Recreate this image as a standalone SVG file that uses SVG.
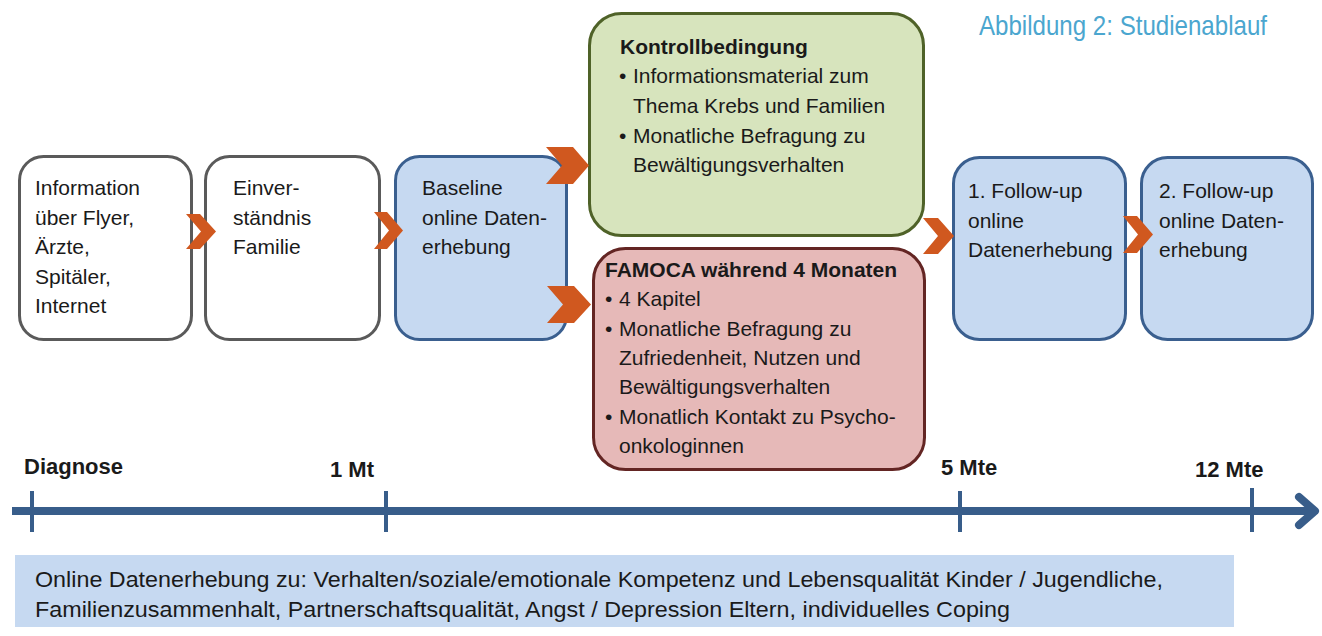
<svg xmlns="http://www.w3.org/2000/svg" width="1322" height="636" viewBox="0 0 1322 636">
<style>
text{font-family:"Liberation Sans",Arial,sans-serif;fill:#1a1a1a}
.t{font-size:21px}
.s{font-size:22px}
.b{font-size:21px;font-weight:bold}
.tl{font-size:22px;font-weight:bold}
.white{fill:#ffffff;stroke:#5a5a5a;stroke-width:3}
.blue{fill:#c6d9f1;stroke:#3a5f8f;stroke-width:3}
.green{fill:#d7e4bd;stroke:#4f6228;stroke-width:3}
.red{fill:#e6b9b8;stroke:#632523;stroke-width:3}
.chev{fill:#d0581f}
.axis{stroke:#385d8a;fill:none}
.title{font-family:"Liberation Sans",Arial,sans-serif;font-size:28px;fill:#4ba6cf}
</style>
<rect width="1322" height="636" fill="#ffffff"/>
<text class="title" x="979" y="35" textLength="288" lengthAdjust="spacingAndGlyphs">Abbildung 2: Studienablauf</text>

<g id="n1">
<rect class="white" x="19.5" y="156.5" width="172" height="183" rx="24"/>
<text class="t" x="35" y="195">Information</text>
<text class="t" x="35" y="224.5">über Flyer,</text>
<text class="t" x="35" y="254">Ärzte,</text>
<text class="t" x="35" y="283.5">Spitäler,</text>
<text class="t" x="35" y="313">Internet</text>
</g>
<g id="n2">
<rect class="white" x="205.5" y="156.5" width="174" height="183" rx="24"/>
<text class="t" x="233" y="195">Einver-</text>
<text class="t" x="233" y="224.5">ständnis</text>
<text class="t" x="233" y="254">Familie</text>
</g>
<g id="n3">
<rect class="blue" x="395.5" y="156.5" width="171" height="183" rx="24"/>
<text class="t" x="422" y="195">Baseline</text>
<text class="t" x="422" y="224.5">online Daten-</text>
<text class="t" x="422" y="254">erhebung</text>
</g>
<g id="kontroll">
<rect class="green" x="589.5" y="13.5" width="334" height="222" rx="32"/>
<text class="b" x="620" y="54">Kontrollbedingung</text>
<text class="t" x="619" y="83">•</text>
<text class="t" x="633" y="83">Informationsmaterial zum</text>
<text class="t" x="633" y="113">Thema Krebs und Familien</text>
<text class="t" x="619" y="143">•</text>
<text class="t" x="633" y="143">Monatliche Befragung zu</text>
<text class="t" x="633" y="172">Bewältigungsverhalten</text>
</g>
<g id="famoca">
<rect class="red" x="593.5" y="248.5" width="331" height="221" rx="32"/>
<text class="b" x="605" y="277">FAMOCA während 4 Monaten</text>
<text class="t" x="605" y="306">•</text>
<text class="t" x="619" y="306">4 Kapitel</text>
<text class="t" x="605" y="336">•</text>
<text class="t" x="619" y="336">Monatliche Befragung zu</text>
<text class="t" x="619" y="365">Zufriedenheit, Nutzen und</text>
<text class="t" x="619" y="394">Bewältigungsverhalten</text>
<text class="t" x="605" y="424">•</text>
<text class="t" x="619" y="424">Monatlich Kontakt zu Psycho-</text>
<text class="t" x="619" y="453">onkologinnen</text>
</g>
<g id="fu1">
<rect class="blue" x="953.5" y="157.5" width="172" height="182" rx="26"/>
<text class="t" x="968" y="198">1. Follow-up</text>
<text class="t" x="968" y="227.5">online</text>
<text class="t" x="968" y="257">Datenerhebung</text>
</g>
<g id="fu2">
<rect class="blue" x="1141.5" y="157.5" width="171" height="182" rx="26"/>
<text class="t" x="1159" y="198">2. Follow-up</text>
<text class="t" x="1159" y="227.5">online Daten-</text>
<text class="t" x="1159" y="257">erhebung</text>
</g>

<g id="connectors">
<polygon class="chev" points="186,214 200,214 216,231.5 200,249 186,249 201,231.5"/>
<polygon class="chev" points="374,212 387,212 403,230.5 387,249 374,249 389,230.5"/>
<polygon class="chev" points="546,147 573,147 589,165.5 573,184 546,184 562,165.5"/>
<polygon class="chev" points="547,286 574,286 591,304.5 574,323 547,323 563,304.5"/>
<polygon class="chev" points="923,218 938,218 954,236 938,254 923,254 938,236"/>
<polygon class="chev" points="1123,216 1137,216 1153,234.5 1137,253 1123,253 1138,234.5"/>
</g>

<g id="timeline">
<line class="axis" x1="12" y1="511" x2="1314" y2="511" stroke-width="8"/>
<polyline class="axis" points="1299,497 1315,511 1299,525" stroke-width="8" stroke-linecap="round" stroke-linejoin="round"/>
<line class="axis" x1="32" y1="491" x2="32" y2="532" stroke-width="4"/>
<line class="axis" x1="386" y1="491" x2="386" y2="532" stroke-width="4"/>
<line class="axis" x1="960" y1="491" x2="960" y2="532" stroke-width="4"/>
<line class="axis" x1="1252" y1="488" x2="1252" y2="532" stroke-width="4"/>
<text class="tl" x="24" y="474">Diagnose</text>
<text class="tl" x="330" y="477">1 Mt</text>
<text class="tl" x="941" y="475">5 Mte</text>
<text class="tl" x="1195" y="477">12 Mte</text>
</g>

<g id="summary">
<rect x="15" y="555" width="1219" height="72" fill="#c6d9f1"/>
<text class="s" x="35" y="587" textLength="1128" lengthAdjust="spacingAndGlyphs">Online Datenerhebung zu:  Verhalten/soziale/emotionale Kompetenz und Lebensqualität Kinder / Jugendliche,</text>
<text class="s" x="35" y="617" textLength="975" lengthAdjust="spacingAndGlyphs">Familienzusammenhalt, Partnerschaftsqualität, Angst / Depression Eltern, individuelles Coping</text>
</g>
</svg>
